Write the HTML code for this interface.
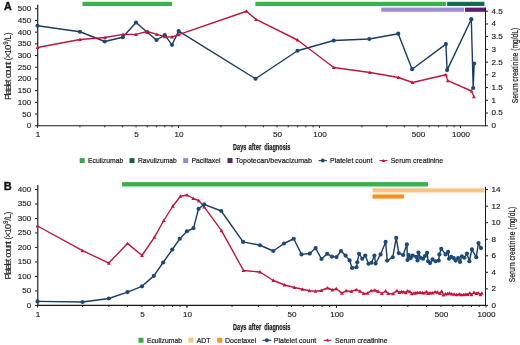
<!DOCTYPE html>
<html><head><meta charset="utf-8"><style>
html,body{margin:0;padding:0;background:#fff;}
body{width:520px;height:345px;overflow:hidden;}
svg{display:block;will-change:transform;font-family:"Liberation Sans",sans-serif;}
</style></head><body>
<svg width="520" height="345" viewBox="0 0 520 345" font-family="Liberation Sans, sans-serif">
<rect width="520" height="345" fill="#fff"/>
<rect x="82.50" y="1.80" width="89.50" height="4.20" fill="#37b34a"/>
<rect x="255.40" y="1.80" width="190.50" height="4.20" fill="#37b34a"/>
<rect x="447.10" y="1.80" width="37.30" height="4.20" fill="#146c4f"/>
<rect x="381.25" y="7.60" width="82.75" height="4.20" fill="#9a90cf"/>
<rect x="465.00" y="7.60" width="20.60" height="4.20" fill="#5b1d6f"/>
<line x1="37.70" y1="4.75" x2="37.70" y2="126.25" stroke="#1a1a1a" stroke-width="1.15"/>
<line x1="485.50" y1="7.60" x2="485.50" y2="126.25" stroke="#1a1a1a" stroke-width="1"/>
<line x1="37.00" y1="125.75" x2="486.00" y2="125.75" stroke="#1a1a1a" stroke-width="1.15"/>
<line x1="35.00" y1="125.75" x2="37.50" y2="125.75" stroke="#1a1a1a" stroke-width="1"/>
<text x="31.20" y="128.20" font-size="8.1" text-anchor="end" font-weight="normal" fill="#222" stroke="#222" stroke-width="0.15" >0</text>
<line x1="35.00" y1="114.05" x2="37.50" y2="114.05" stroke="#1a1a1a" stroke-width="1"/>
<text x="31.20" y="116.50" font-size="8.1" text-anchor="end" font-weight="normal" fill="#222" stroke="#222" stroke-width="0.15" >50</text>
<line x1="35.00" y1="102.35" x2="37.50" y2="102.35" stroke="#1a1a1a" stroke-width="1"/>
<text x="31.20" y="104.80" font-size="8.1" text-anchor="end" font-weight="normal" fill="#222" stroke="#222" stroke-width="0.15" >100</text>
<line x1="35.00" y1="90.65" x2="37.50" y2="90.65" stroke="#1a1a1a" stroke-width="1"/>
<text x="31.20" y="93.10" font-size="8.1" text-anchor="end" font-weight="normal" fill="#222" stroke="#222" stroke-width="0.15" >150</text>
<line x1="35.00" y1="78.95" x2="37.50" y2="78.95" stroke="#1a1a1a" stroke-width="1"/>
<text x="31.20" y="81.40" font-size="8.1" text-anchor="end" font-weight="normal" fill="#222" stroke="#222" stroke-width="0.15" >200</text>
<line x1="35.00" y1="67.25" x2="37.50" y2="67.25" stroke="#1a1a1a" stroke-width="1"/>
<text x="31.20" y="69.70" font-size="8.1" text-anchor="end" font-weight="normal" fill="#222" stroke="#222" stroke-width="0.15" >250</text>
<line x1="35.00" y1="55.55" x2="37.50" y2="55.55" stroke="#1a1a1a" stroke-width="1"/>
<text x="31.20" y="58.00" font-size="8.1" text-anchor="end" font-weight="normal" fill="#222" stroke="#222" stroke-width="0.15" >300</text>
<line x1="35.00" y1="43.85" x2="37.50" y2="43.85" stroke="#1a1a1a" stroke-width="1"/>
<text x="31.20" y="46.30" font-size="8.1" text-anchor="end" font-weight="normal" fill="#222" stroke="#222" stroke-width="0.15" >350</text>
<line x1="35.00" y1="32.15" x2="37.50" y2="32.15" stroke="#1a1a1a" stroke-width="1"/>
<text x="31.20" y="34.60" font-size="8.1" text-anchor="end" font-weight="normal" fill="#222" stroke="#222" stroke-width="0.15" >400</text>
<line x1="35.00" y1="20.45" x2="37.50" y2="20.45" stroke="#1a1a1a" stroke-width="1"/>
<text x="31.20" y="22.90" font-size="8.1" text-anchor="end" font-weight="normal" fill="#222" stroke="#222" stroke-width="0.15" >450</text>
<line x1="35.00" y1="8.75" x2="37.50" y2="8.75" stroke="#1a1a1a" stroke-width="1"/>
<text x="31.20" y="11.20" font-size="8.1" text-anchor="end" font-weight="normal" fill="#222" stroke="#222" stroke-width="0.15" >500</text>
<line x1="485.50" y1="125.75" x2="488.00" y2="125.75" stroke="#1a1a1a" stroke-width="1"/>
<text x="491.60" y="128.20" font-size="8.1" text-anchor="start" font-weight="normal" fill="#222" stroke="#222" stroke-width="0.15" >0</text>
<line x1="485.50" y1="113.03" x2="488.00" y2="113.03" stroke="#1a1a1a" stroke-width="1"/>
<text x="491.60" y="115.48" font-size="8.1" text-anchor="start" font-weight="normal" fill="#222" stroke="#222" stroke-width="0.15" >0.5</text>
<line x1="485.50" y1="100.30" x2="488.00" y2="100.30" stroke="#1a1a1a" stroke-width="1"/>
<text x="491.60" y="102.75" font-size="8.1" text-anchor="start" font-weight="normal" fill="#222" stroke="#222" stroke-width="0.15" >1</text>
<line x1="485.50" y1="87.58" x2="488.00" y2="87.58" stroke="#1a1a1a" stroke-width="1"/>
<text x="491.60" y="90.03" font-size="8.1" text-anchor="start" font-weight="normal" fill="#222" stroke="#222" stroke-width="0.15" >1.5</text>
<line x1="485.50" y1="74.85" x2="488.00" y2="74.85" stroke="#1a1a1a" stroke-width="1"/>
<text x="491.60" y="77.30" font-size="8.1" text-anchor="start" font-weight="normal" fill="#222" stroke="#222" stroke-width="0.15" >2</text>
<line x1="485.50" y1="62.12" x2="488.00" y2="62.12" stroke="#1a1a1a" stroke-width="1"/>
<text x="491.60" y="64.58" font-size="8.1" text-anchor="start" font-weight="normal" fill="#222" stroke="#222" stroke-width="0.15" >2.5</text>
<line x1="485.50" y1="49.40" x2="488.00" y2="49.40" stroke="#1a1a1a" stroke-width="1"/>
<text x="491.60" y="51.85" font-size="8.1" text-anchor="start" font-weight="normal" fill="#222" stroke="#222" stroke-width="0.15" >3</text>
<line x1="485.50" y1="36.67" x2="488.00" y2="36.67" stroke="#1a1a1a" stroke-width="1"/>
<text x="491.60" y="39.12" font-size="8.1" text-anchor="start" font-weight="normal" fill="#222" stroke="#222" stroke-width="0.15" >3.5</text>
<line x1="485.50" y1="23.95" x2="488.00" y2="23.95" stroke="#1a1a1a" stroke-width="1"/>
<text x="491.60" y="26.40" font-size="8.1" text-anchor="start" font-weight="normal" fill="#222" stroke="#222" stroke-width="0.15" >4</text>
<line x1="485.50" y1="11.23" x2="488.00" y2="11.23" stroke="#1a1a1a" stroke-width="1"/>
<text x="491.60" y="13.68" font-size="8.1" text-anchor="start" font-weight="normal" fill="#222" stroke="#222" stroke-width="0.15" >4.5</text>
<line x1="37.50" y1="125.75" x2="37.50" y2="127.95" stroke="#1a1a1a" stroke-width="0.9"/>
<line x1="79.95" y1="125.75" x2="79.95" y2="127.35" stroke="#1a1a1a" stroke-width="0.9"/>
<line x1="104.77" y1="125.75" x2="104.77" y2="127.35" stroke="#1a1a1a" stroke-width="0.9"/>
<line x1="122.39" y1="125.75" x2="122.39" y2="127.35" stroke="#1a1a1a" stroke-width="0.9"/>
<line x1="136.05" y1="125.75" x2="136.05" y2="127.35" stroke="#1a1a1a" stroke-width="0.9"/>
<line x1="147.22" y1="125.75" x2="147.22" y2="127.35" stroke="#1a1a1a" stroke-width="0.9"/>
<line x1="156.66" y1="125.75" x2="156.66" y2="127.35" stroke="#1a1a1a" stroke-width="0.9"/>
<line x1="164.84" y1="125.75" x2="164.84" y2="127.35" stroke="#1a1a1a" stroke-width="0.9"/>
<line x1="172.05" y1="125.75" x2="172.05" y2="127.35" stroke="#1a1a1a" stroke-width="0.9"/>
<line x1="178.50" y1="125.75" x2="178.50" y2="127.95" stroke="#1a1a1a" stroke-width="0.9"/>
<line x1="220.95" y1="125.75" x2="220.95" y2="127.35" stroke="#1a1a1a" stroke-width="0.9"/>
<line x1="245.77" y1="125.75" x2="245.77" y2="127.35" stroke="#1a1a1a" stroke-width="0.9"/>
<line x1="263.39" y1="125.75" x2="263.39" y2="127.35" stroke="#1a1a1a" stroke-width="0.9"/>
<line x1="277.05" y1="125.75" x2="277.05" y2="127.35" stroke="#1a1a1a" stroke-width="0.9"/>
<line x1="288.22" y1="125.75" x2="288.22" y2="127.35" stroke="#1a1a1a" stroke-width="0.9"/>
<line x1="297.66" y1="125.75" x2="297.66" y2="127.35" stroke="#1a1a1a" stroke-width="0.9"/>
<line x1="305.84" y1="125.75" x2="305.84" y2="127.35" stroke="#1a1a1a" stroke-width="0.9"/>
<line x1="313.05" y1="125.75" x2="313.05" y2="127.35" stroke="#1a1a1a" stroke-width="0.9"/>
<line x1="319.50" y1="125.75" x2="319.50" y2="127.95" stroke="#1a1a1a" stroke-width="0.9"/>
<line x1="361.95" y1="125.75" x2="361.95" y2="127.35" stroke="#1a1a1a" stroke-width="0.9"/>
<line x1="386.77" y1="125.75" x2="386.77" y2="127.35" stroke="#1a1a1a" stroke-width="0.9"/>
<line x1="404.39" y1="125.75" x2="404.39" y2="127.35" stroke="#1a1a1a" stroke-width="0.9"/>
<line x1="418.05" y1="125.75" x2="418.05" y2="127.35" stroke="#1a1a1a" stroke-width="0.9"/>
<line x1="429.22" y1="125.75" x2="429.22" y2="127.35" stroke="#1a1a1a" stroke-width="0.9"/>
<line x1="438.66" y1="125.75" x2="438.66" y2="127.35" stroke="#1a1a1a" stroke-width="0.9"/>
<line x1="446.84" y1="125.75" x2="446.84" y2="127.35" stroke="#1a1a1a" stroke-width="0.9"/>
<line x1="454.05" y1="125.75" x2="454.05" y2="127.35" stroke="#1a1a1a" stroke-width="0.9"/>
<line x1="460.50" y1="125.75" x2="460.50" y2="127.95" stroke="#1a1a1a" stroke-width="0.9"/>
<text x="37.90" y="137.20" font-size="8.1" text-anchor="middle" font-weight="normal" fill="#222" stroke="#222" stroke-width="0.15" >1</text>
<text x="136.45" y="137.20" font-size="8.1" text-anchor="middle" font-weight="normal" fill="#222" stroke="#222" stroke-width="0.15" >5</text>
<text x="178.90" y="137.20" font-size="8.1" text-anchor="middle" font-weight="normal" fill="#222" stroke="#222" stroke-width="0.15" >10</text>
<text x="277.45" y="137.20" font-size="8.1" text-anchor="middle" font-weight="normal" fill="#222" stroke="#222" stroke-width="0.15" >50</text>
<text x="319.90" y="137.20" font-size="8.1" text-anchor="middle" font-weight="normal" fill="#222" stroke="#222" stroke-width="0.15" >100</text>
<text x="418.45" y="137.20" font-size="8.1" text-anchor="middle" font-weight="normal" fill="#222" stroke="#222" stroke-width="0.15" >500</text>
<text x="460.90" y="137.20" font-size="8.1" text-anchor="middle" font-weight="normal" fill="#222" stroke="#222" stroke-width="0.15" >1000</text>
<polyline points="37.50,25.75 80.00,31.75 104.75,41.50 122.75,37.25 136.00,22.50 147.25,32.25 156.50,40.00 164.80,35.20 172.00,44.80 178.70,31.10 255.50,78.75 297.50,50.75 333.75,40.50 369.25,39.00 398.25,33.70 412.10,69.20 445.90,44.10 447.10,70.10 471.30,19.20 473.20,88.00 474.20,63.50" fill="none" stroke="#1a3c62" stroke-width="1.4" stroke-linejoin="round"/>
<circle cx="37.50" cy="25.75" r="2.1" fill="#1c4a78"/>
<circle cx="80.00" cy="31.75" r="2.1" fill="#1c4a78"/>
<circle cx="104.75" cy="41.50" r="2.1" fill="#1c4a78"/>
<circle cx="122.75" cy="37.25" r="2.1" fill="#1c4a78"/>
<circle cx="136.00" cy="22.50" r="2.1" fill="#1c4a78"/>
<circle cx="147.25" cy="32.25" r="2.1" fill="#1c4a78"/>
<circle cx="156.50" cy="40.00" r="2.1" fill="#1c4a78"/>
<circle cx="164.80" cy="35.20" r="2.1" fill="#1c4a78"/>
<circle cx="172.00" cy="44.80" r="2.1" fill="#1c4a78"/>
<circle cx="178.70" cy="31.10" r="2.1" fill="#1c4a78"/>
<circle cx="255.50" cy="78.75" r="2.1" fill="#1c4a78"/>
<circle cx="297.50" cy="50.75" r="2.1" fill="#1c4a78"/>
<circle cx="333.75" cy="40.50" r="2.1" fill="#1c4a78"/>
<circle cx="369.25" cy="39.00" r="2.1" fill="#1c4a78"/>
<circle cx="398.25" cy="33.70" r="2.1" fill="#1c4a78"/>
<circle cx="412.10" cy="69.20" r="2.1" fill="#1c4a78"/>
<circle cx="445.90" cy="44.10" r="2.1" fill="#1c4a78"/>
<circle cx="447.10" cy="70.10" r="2.1" fill="#1c4a78"/>
<circle cx="471.30" cy="19.20" r="2.1" fill="#1c4a78"/>
<circle cx="473.20" cy="88.00" r="2.1" fill="#1c4a78"/>
<circle cx="474.20" cy="63.50" r="2.1" fill="#1c4a78"/>
<polyline points="37.50,47.50 80.00,39.50 105.00,37.50 123.00,34.40 136.00,34.40 147.25,31.50 156.90,34.40 164.80,36.70 172.10,37.00 178.70,34.70 246.50,11.25 256.00,19.40 297.50,40.00 333.75,67.50 370.00,72.50 398.50,77.50 412.50,82.50 445.80,74.70 447.80,80.60 471.50,91.00 473.90,96.70" fill="none" stroke="#b9183c" stroke-width="1.4" stroke-linejoin="round"/>
<path d="M35.55,49.06 L39.45,49.06 L37.50,45.55Z" fill="#c4163c"/>
<path d="M78.05,41.06 L81.95,41.06 L80.00,37.55Z" fill="#c4163c"/>
<path d="M103.05,39.06 L106.95,39.06 L105.00,35.55Z" fill="#c4163c"/>
<path d="M121.05,35.96 L124.95,35.96 L123.00,32.45Z" fill="#c4163c"/>
<path d="M134.05,35.96 L137.95,35.96 L136.00,32.45Z" fill="#c4163c"/>
<path d="M145.30,33.06 L149.20,33.06 L147.25,29.55Z" fill="#c4163c"/>
<path d="M154.95,35.96 L158.85,35.96 L156.90,32.45Z" fill="#c4163c"/>
<path d="M162.85,38.26 L166.75,38.26 L164.80,34.75Z" fill="#c4163c"/>
<path d="M170.15,38.56 L174.05,38.56 L172.10,35.05Z" fill="#c4163c"/>
<path d="M176.75,36.26 L180.65,36.26 L178.70,32.75Z" fill="#c4163c"/>
<path d="M244.55,12.81 L248.45,12.81 L246.50,9.30Z" fill="#c4163c"/>
<path d="M254.05,20.96 L257.95,20.96 L256.00,17.45Z" fill="#c4163c"/>
<path d="M295.55,41.56 L299.45,41.56 L297.50,38.05Z" fill="#c4163c"/>
<path d="M331.80,69.06 L335.70,69.06 L333.75,65.55Z" fill="#c4163c"/>
<path d="M368.05,74.06 L371.95,74.06 L370.00,70.55Z" fill="#c4163c"/>
<path d="M396.55,79.06 L400.45,79.06 L398.50,75.55Z" fill="#c4163c"/>
<path d="M410.55,84.06 L414.45,84.06 L412.50,80.55Z" fill="#c4163c"/>
<path d="M443.85,76.26 L447.75,76.26 L445.80,72.75Z" fill="#c4163c"/>
<path d="M445.85,82.16 L449.75,82.16 L447.80,78.65Z" fill="#c4163c"/>
<path d="M469.55,92.56 L473.45,92.56 L471.50,89.05Z" fill="#c4163c"/>
<path d="M471.95,98.26 L475.85,98.26 L473.90,94.75Z" fill="#c4163c"/>
<text x="4.00" y="9.70" font-size="10.7" text-anchor="start" font-weight="bold" fill="#111" stroke="#111" stroke-width="0.35" >A</text>
<text transform="translate(11.3,100.1) rotate(-90)" font-size="9.0" fill="#222" stroke="#222" stroke-width="0.1" lengthAdjust="spacingAndGlyphs"><tspan x="0" textLength="20.6">Platelet</tspan><tspan x="22.0" textLength="16.4">count</tspan><tspan x="39.6" textLength="15.7">(×10</tspan><tspan x="55.3" dy="-3" font-size="6.3" textLength="3.3">9</tspan><tspan x="58.6" dy="3" textLength="9.2">/L)</tspan></text>
<text transform="translate(518.2,65.5) rotate(-90)" font-size="9" text-anchor="middle" fill="#222" stroke="#222" stroke-width="0.2" textLength="75.5" lengthAdjust="spacingAndGlyphs">Serum creatinine (mg/dL)</text>
<text x="233.10" y="150.40" font-size="8.8" text-anchor="start" font-weight="bold" fill="#222" stroke="#222" stroke-width="0.25" textLength="13.2" lengthAdjust="spacingAndGlyphs" >Days</text>
<text x="248.50" y="150.40" font-size="8.8" text-anchor="start" font-weight="bold" fill="#222" stroke="#222" stroke-width="0.25" textLength="12.7" lengthAdjust="spacingAndGlyphs" >after</text>
<text x="264.30" y="150.40" font-size="8.8" text-anchor="start" font-weight="bold" fill="#222" stroke="#222" stroke-width="0.25" textLength="26.2" lengthAdjust="spacingAndGlyphs" >diagnosis</text>
<rect x="79.70" y="158.10" width="5.00" height="5.00" fill="#3aa84a"/>
<text x="88.10" y="163.45" font-size="7.8" text-anchor="start" font-weight="normal" fill="#222" stroke="#222" stroke-width="0.22" textLength="35.1" lengthAdjust="spacingAndGlyphs" >Eculizumab</text>
<rect x="129.50" y="158.10" width="5.00" height="5.00" fill="#1a5c46"/>
<text x="138.00" y="163.45" font-size="7.8" text-anchor="start" font-weight="normal" fill="#222" stroke="#222" stroke-width="0.22" textLength="38.75" lengthAdjust="spacingAndGlyphs" >Ravulizumab</text>
<rect x="183.20" y="158.10" width="5.00" height="5.00" fill="#948cc4"/>
<text x="191.40" y="163.45" font-size="7.8" text-anchor="start" font-weight="normal" fill="#222" stroke="#222" stroke-width="0.22" textLength="29.2" lengthAdjust="spacingAndGlyphs" >Paclitaxel</text>
<rect x="227.50" y="158.10" width="5.00" height="5.00" fill="#52245f"/>
<text x="235.50" y="163.45" font-size="7.8" text-anchor="start" font-weight="normal" fill="#222" stroke="#222" stroke-width="0.22" textLength="76.5" lengthAdjust="spacingAndGlyphs" >Topotecan/bevacizumab</text>
<line x1="318.60" y1="160.60" x2="326.90" y2="160.60" stroke="#1a3c62" stroke-width="1.1"/>
<circle cx="322.75" cy="160.60" r="2.0" fill="#1c4a78"/>
<text x="330.10" y="163.45" font-size="7.8" text-anchor="start" font-weight="normal" fill="#222" stroke="#222" stroke-width="0.22" textLength="42.3" lengthAdjust="spacingAndGlyphs" >Platelet count</text>
<line x1="379.50" y1="160.60" x2="387.50" y2="160.60" stroke="#b9183c" stroke-width="1.1"/>
<path d="M381.80,161.96 L385.20,161.96 L383.50,158.90Z" fill="#c4163c"/>
<text x="390.75" y="163.45" font-size="7.8" text-anchor="start" font-weight="normal" fill="#222" stroke="#222" stroke-width="0.22" textLength="52.25" lengthAdjust="spacingAndGlyphs" >Serum creatinine</text>
<rect x="122.10" y="182.10" width="305.90" height="4.40" fill="#37b34a"/>
<rect x="372.50" y="188.30" width="111.75" height="4.20" fill="#f8c585"/>
<rect x="372.50" y="194.40" width="31.50" height="4.20" fill="#f7921e"/>
<line x1="37.80" y1="185.10" x2="37.80" y2="305.90" stroke="#1a1a1a" stroke-width="1.15"/>
<line x1="485.50" y1="186.75" x2="485.50" y2="305.90" stroke="#1a1a1a" stroke-width="1"/>
<line x1="37.00" y1="305.40" x2="486.00" y2="305.40" stroke="#1a1a1a" stroke-width="1.15"/>
<line x1="35.00" y1="305.40" x2="37.50" y2="305.40" stroke="#1a1a1a" stroke-width="1"/>
<text x="31.20" y="307.85" font-size="8.1" text-anchor="end" font-weight="normal" fill="#222" stroke="#222" stroke-width="0.15" >0</text>
<line x1="35.00" y1="290.91" x2="37.50" y2="290.91" stroke="#1a1a1a" stroke-width="1"/>
<text x="31.20" y="293.36" font-size="8.1" text-anchor="end" font-weight="normal" fill="#222" stroke="#222" stroke-width="0.15" >50</text>
<line x1="35.00" y1="276.42" x2="37.50" y2="276.42" stroke="#1a1a1a" stroke-width="1"/>
<text x="31.20" y="278.87" font-size="8.1" text-anchor="end" font-weight="normal" fill="#222" stroke="#222" stroke-width="0.15" >100</text>
<line x1="35.00" y1="261.93" x2="37.50" y2="261.93" stroke="#1a1a1a" stroke-width="1"/>
<text x="31.20" y="264.38" font-size="8.1" text-anchor="end" font-weight="normal" fill="#222" stroke="#222" stroke-width="0.15" >150</text>
<line x1="35.00" y1="247.44" x2="37.50" y2="247.44" stroke="#1a1a1a" stroke-width="1"/>
<text x="31.20" y="249.89" font-size="8.1" text-anchor="end" font-weight="normal" fill="#222" stroke="#222" stroke-width="0.15" >200</text>
<line x1="35.00" y1="232.95" x2="37.50" y2="232.95" stroke="#1a1a1a" stroke-width="1"/>
<text x="31.20" y="235.40" font-size="8.1" text-anchor="end" font-weight="normal" fill="#222" stroke="#222" stroke-width="0.15" >250</text>
<line x1="35.00" y1="218.46" x2="37.50" y2="218.46" stroke="#1a1a1a" stroke-width="1"/>
<text x="31.20" y="220.91" font-size="8.1" text-anchor="end" font-weight="normal" fill="#222" stroke="#222" stroke-width="0.15" >300</text>
<line x1="35.00" y1="203.97" x2="37.50" y2="203.97" stroke="#1a1a1a" stroke-width="1"/>
<text x="31.20" y="206.42" font-size="8.1" text-anchor="end" font-weight="normal" fill="#222" stroke="#222" stroke-width="0.15" >350</text>
<line x1="35.00" y1="189.48" x2="37.50" y2="189.48" stroke="#1a1a1a" stroke-width="1"/>
<text x="31.20" y="191.93" font-size="8.1" text-anchor="end" font-weight="normal" fill="#222" stroke="#222" stroke-width="0.15" >400</text>
<line x1="485.50" y1="305.40" x2="488.00" y2="305.40" stroke="#1a1a1a" stroke-width="1"/>
<text x="491.60" y="307.85" font-size="8.1" text-anchor="start" font-weight="normal" fill="#222" stroke="#222" stroke-width="0.15" >0</text>
<line x1="485.50" y1="288.86" x2="488.00" y2="288.86" stroke="#1a1a1a" stroke-width="1"/>
<text x="491.60" y="291.31" font-size="8.1" text-anchor="start" font-weight="normal" fill="#222" stroke="#222" stroke-width="0.15" >2</text>
<line x1="485.50" y1="272.32" x2="488.00" y2="272.32" stroke="#1a1a1a" stroke-width="1"/>
<text x="491.60" y="274.77" font-size="8.1" text-anchor="start" font-weight="normal" fill="#222" stroke="#222" stroke-width="0.15" >4</text>
<line x1="485.50" y1="255.78" x2="488.00" y2="255.78" stroke="#1a1a1a" stroke-width="1"/>
<text x="491.60" y="258.23" font-size="8.1" text-anchor="start" font-weight="normal" fill="#222" stroke="#222" stroke-width="0.15" >6</text>
<line x1="485.50" y1="239.24" x2="488.00" y2="239.24" stroke="#1a1a1a" stroke-width="1"/>
<text x="491.60" y="241.69" font-size="8.1" text-anchor="start" font-weight="normal" fill="#222" stroke="#222" stroke-width="0.15" >8</text>
<line x1="485.50" y1="222.70" x2="488.00" y2="222.70" stroke="#1a1a1a" stroke-width="1"/>
<text x="491.60" y="225.15" font-size="8.1" text-anchor="start" font-weight="normal" fill="#222" stroke="#222" stroke-width="0.15" >10</text>
<line x1="485.50" y1="206.16" x2="488.00" y2="206.16" stroke="#1a1a1a" stroke-width="1"/>
<text x="491.60" y="208.61" font-size="8.1" text-anchor="start" font-weight="normal" fill="#222" stroke="#222" stroke-width="0.15" >12</text>
<line x1="485.50" y1="189.62" x2="488.00" y2="189.62" stroke="#1a1a1a" stroke-width="1"/>
<text x="491.60" y="192.07" font-size="8.1" text-anchor="start" font-weight="normal" fill="#222" stroke="#222" stroke-width="0.15" >14</text>
<line x1="37.50" y1="305.40" x2="37.50" y2="307.60" stroke="#1a1a1a" stroke-width="0.9"/>
<line x1="82.50" y1="305.40" x2="82.50" y2="307.00" stroke="#1a1a1a" stroke-width="0.9"/>
<line x1="108.83" y1="305.40" x2="108.83" y2="307.00" stroke="#1a1a1a" stroke-width="0.9"/>
<line x1="127.51" y1="305.40" x2="127.51" y2="307.00" stroke="#1a1a1a" stroke-width="0.9"/>
<line x1="142.00" y1="305.40" x2="142.00" y2="307.00" stroke="#1a1a1a" stroke-width="0.9"/>
<line x1="153.83" y1="305.40" x2="153.83" y2="307.00" stroke="#1a1a1a" stroke-width="0.9"/>
<line x1="163.84" y1="305.40" x2="163.84" y2="307.00" stroke="#1a1a1a" stroke-width="0.9"/>
<line x1="172.51" y1="305.40" x2="172.51" y2="307.00" stroke="#1a1a1a" stroke-width="0.9"/>
<line x1="180.16" y1="305.40" x2="180.16" y2="307.00" stroke="#1a1a1a" stroke-width="0.9"/>
<line x1="187.00" y1="305.40" x2="187.00" y2="307.60" stroke="#1a1a1a" stroke-width="0.9"/>
<line x1="187.00" y1="305.40" x2="187.00" y2="307.60" stroke="#1a1a1a" stroke-width="0.9"/>
<line x1="232.00" y1="305.40" x2="232.00" y2="307.00" stroke="#1a1a1a" stroke-width="0.9"/>
<line x1="258.33" y1="305.40" x2="258.33" y2="307.00" stroke="#1a1a1a" stroke-width="0.9"/>
<line x1="277.01" y1="305.40" x2="277.01" y2="307.00" stroke="#1a1a1a" stroke-width="0.9"/>
<line x1="291.50" y1="305.40" x2="291.50" y2="307.00" stroke="#1a1a1a" stroke-width="0.9"/>
<line x1="303.33" y1="305.40" x2="303.33" y2="307.00" stroke="#1a1a1a" stroke-width="0.9"/>
<line x1="313.34" y1="305.40" x2="313.34" y2="307.00" stroke="#1a1a1a" stroke-width="0.9"/>
<line x1="322.01" y1="305.40" x2="322.01" y2="307.00" stroke="#1a1a1a" stroke-width="0.9"/>
<line x1="329.66" y1="305.40" x2="329.66" y2="307.00" stroke="#1a1a1a" stroke-width="0.9"/>
<line x1="336.50" y1="305.40" x2="336.50" y2="307.60" stroke="#1a1a1a" stroke-width="0.9"/>
<line x1="336.50" y1="305.40" x2="336.50" y2="307.60" stroke="#1a1a1a" stroke-width="0.9"/>
<line x1="381.50" y1="305.40" x2="381.50" y2="307.00" stroke="#1a1a1a" stroke-width="0.9"/>
<line x1="407.83" y1="305.40" x2="407.83" y2="307.00" stroke="#1a1a1a" stroke-width="0.9"/>
<line x1="426.51" y1="305.40" x2="426.51" y2="307.00" stroke="#1a1a1a" stroke-width="0.9"/>
<line x1="441.00" y1="305.40" x2="441.00" y2="307.00" stroke="#1a1a1a" stroke-width="0.9"/>
<line x1="452.83" y1="305.40" x2="452.83" y2="307.00" stroke="#1a1a1a" stroke-width="0.9"/>
<line x1="462.84" y1="305.40" x2="462.84" y2="307.00" stroke="#1a1a1a" stroke-width="0.9"/>
<line x1="471.51" y1="305.40" x2="471.51" y2="307.00" stroke="#1a1a1a" stroke-width="0.9"/>
<line x1="479.16" y1="305.40" x2="479.16" y2="307.00" stroke="#1a1a1a" stroke-width="0.9"/>
<line x1="486.00" y1="305.40" x2="486.00" y2="307.60" stroke="#1a1a1a" stroke-width="0.9"/>
<text x="37.90" y="316.90" font-size="8.1" text-anchor="middle" font-weight="normal" fill="#222" stroke="#222" stroke-width="0.15" >1</text>
<text x="142.40" y="316.90" font-size="8.1" text-anchor="middle" font-weight="normal" fill="#222" stroke="#222" stroke-width="0.15" >5</text>
<text x="187.40" y="316.90" font-size="8.1" text-anchor="middle" font-weight="normal" fill="#222" stroke="#222" stroke-width="0.15" >10</text>
<text x="291.90" y="316.90" font-size="8.1" text-anchor="middle" font-weight="normal" fill="#222" stroke="#222" stroke-width="0.15" >50</text>
<text x="336.90" y="316.90" font-size="8.1" text-anchor="middle" font-weight="normal" fill="#222" stroke="#222" stroke-width="0.15" >100</text>
<text x="441.40" y="316.90" font-size="8.1" text-anchor="middle" font-weight="normal" fill="#222" stroke="#222" stroke-width="0.15" >500</text>
<text x="486.40" y="316.90" font-size="8.1" text-anchor="middle" font-weight="normal" fill="#222" stroke="#222" stroke-width="0.15" >1000</text>
<polyline points="37.50,226.00 82.50,250.60 108.80,263.10 127.50,243.40 142.00,255.50 154.50,237.20 163.80,220.50 172.80,206.25 180.40,196.25 187.10,195.00 193.30,198.50 198.80,200.60 204.20,206.90 221.50,230.60 243.50,270.50 260.00,272.00 273.25,280.50 284.50,285.00 294.50,287.50 302.50,289.25 309.50,290.75 315.50,291.25 321.25,290.50 327.50,288.00 332.50,290.00 336.25,288.75 341.90,293.10 346.25,290.60 351.25,291.50 356.25,289.60 360.00,291.25 363.75,293.50 367.50,293.10 371.25,290.60 375.00,290.25 378.10,291.50 381.90,293.50 385.60,291.00 388.10,293.50 393.10,293.75 396.90,290.60 399.40,292.50 401.50,291.57 403.64,291.94 405.85,292.65 407.51,290.94 409.95,291.63 411.79,293.69 413.86,293.24 415.93,292.69 417.68,292.68 420.15,292.36 422.49,292.78 424.16,293.02 426.35,291.74 427.98,293.32 430.05,292.91 432.53,292.90 435.05,292.01 437.45,292.14 439.99,293.36 441.68,291.28 443.50,294.90 445.54,293.95 447.44,293.62 449.42,293.18 451.61,293.84 454.11,294.11 456.64,294.60 459.23,294.08 461.00,294.61 463.56,294.73 465.73,294.20 467.54,294.53 469.72,293.00 471.38,294.59 473.97,292.45 476.37,293.35 478.12,293.02 480.49,294.64 481.80,293.20" fill="none" stroke="#b9183c" stroke-width="1.4" stroke-linejoin="round"/>
<path d="M35.55,227.56 L39.45,227.56 L37.50,224.05Z" fill="#c4163c"/>
<path d="M80.55,252.16 L84.45,252.16 L82.50,248.65Z" fill="#c4163c"/>
<path d="M106.85,264.66 L110.75,264.66 L108.80,261.15Z" fill="#c4163c"/>
<path d="M125.55,244.96 L129.45,244.96 L127.50,241.45Z" fill="#c4163c"/>
<path d="M140.05,257.06 L143.95,257.06 L142.00,253.55Z" fill="#c4163c"/>
<path d="M152.55,238.76 L156.45,238.76 L154.50,235.25Z" fill="#c4163c"/>
<path d="M161.85,222.06 L165.75,222.06 L163.80,218.55Z" fill="#c4163c"/>
<path d="M170.85,207.81 L174.75,207.81 L172.80,204.30Z" fill="#c4163c"/>
<path d="M178.45,197.81 L182.35,197.81 L180.40,194.30Z" fill="#c4163c"/>
<path d="M185.15,196.56 L189.05,196.56 L187.10,193.05Z" fill="#c4163c"/>
<path d="M191.35,200.06 L195.25,200.06 L193.30,196.55Z" fill="#c4163c"/>
<path d="M196.85,202.16 L200.75,202.16 L198.80,198.65Z" fill="#c4163c"/>
<path d="M202.25,208.46 L206.15,208.46 L204.20,204.95Z" fill="#c4163c"/>
<path d="M219.55,232.16 L223.45,232.16 L221.50,228.65Z" fill="#c4163c"/>
<path d="M241.55,272.06 L245.45,272.06 L243.50,268.55Z" fill="#c4163c"/>
<path d="M258.05,273.56 L261.95,273.56 L260.00,270.05Z" fill="#c4163c"/>
<path d="M271.30,282.06 L275.20,282.06 L273.25,278.55Z" fill="#c4163c"/>
<path d="M282.55,286.56 L286.45,286.56 L284.50,283.05Z" fill="#c4163c"/>
<path d="M292.55,289.06 L296.45,289.06 L294.50,285.55Z" fill="#c4163c"/>
<path d="M300.55,290.81 L304.45,290.81 L302.50,287.30Z" fill="#c4163c"/>
<path d="M307.55,292.31 L311.45,292.31 L309.50,288.80Z" fill="#c4163c"/>
<path d="M313.55,292.81 L317.45,292.81 L315.50,289.30Z" fill="#c4163c"/>
<path d="M319.30,292.06 L323.20,292.06 L321.25,288.55Z" fill="#c4163c"/>
<path d="M325.55,289.56 L329.45,289.56 L327.50,286.05Z" fill="#c4163c"/>
<path d="M330.55,291.56 L334.45,291.56 L332.50,288.05Z" fill="#c4163c"/>
<path d="M334.30,290.31 L338.20,290.31 L336.25,286.80Z" fill="#c4163c"/>
<path d="M339.95,294.66 L343.85,294.66 L341.90,291.15Z" fill="#c4163c"/>
<path d="M344.30,292.16 L348.20,292.16 L346.25,288.65Z" fill="#c4163c"/>
<path d="M349.30,293.06 L353.20,293.06 L351.25,289.55Z" fill="#c4163c"/>
<path d="M354.30,291.16 L358.20,291.16 L356.25,287.65Z" fill="#c4163c"/>
<path d="M358.05,292.81 L361.95,292.81 L360.00,289.30Z" fill="#c4163c"/>
<path d="M361.80,295.06 L365.70,295.06 L363.75,291.55Z" fill="#c4163c"/>
<path d="M365.55,294.66 L369.45,294.66 L367.50,291.15Z" fill="#c4163c"/>
<path d="M369.30,292.16 L373.20,292.16 L371.25,288.65Z" fill="#c4163c"/>
<path d="M373.05,291.81 L376.95,291.81 L375.00,288.30Z" fill="#c4163c"/>
<path d="M376.15,293.06 L380.05,293.06 L378.10,289.55Z" fill="#c4163c"/>
<path d="M379.95,295.06 L383.85,295.06 L381.90,291.55Z" fill="#c4163c"/>
<path d="M383.65,292.56 L387.55,292.56 L385.60,289.05Z" fill="#c4163c"/>
<path d="M386.15,295.06 L390.05,295.06 L388.10,291.55Z" fill="#c4163c"/>
<path d="M391.15,295.31 L395.05,295.31 L393.10,291.80Z" fill="#c4163c"/>
<path d="M394.95,292.16 L398.85,292.16 L396.90,288.65Z" fill="#c4163c"/>
<path d="M397.45,294.06 L401.35,294.06 L399.40,290.55Z" fill="#c4163c"/>
<path d="M399.55,293.13 L403.45,293.13 L401.50,289.62Z" fill="#c4163c"/>
<path d="M401.69,293.50 L405.59,293.50 L403.64,289.99Z" fill="#c4163c"/>
<path d="M403.90,294.21 L407.80,294.21 L405.85,290.70Z" fill="#c4163c"/>
<path d="M405.56,292.50 L409.46,292.50 L407.51,288.99Z" fill="#c4163c"/>
<path d="M408.00,293.19 L411.90,293.19 L409.95,289.68Z" fill="#c4163c"/>
<path d="M409.84,295.25 L413.74,295.25 L411.79,291.74Z" fill="#c4163c"/>
<path d="M411.91,294.80 L415.81,294.80 L413.86,291.29Z" fill="#c4163c"/>
<path d="M413.98,294.25 L417.88,294.25 L415.93,290.74Z" fill="#c4163c"/>
<path d="M415.73,294.24 L419.63,294.24 L417.68,290.73Z" fill="#c4163c"/>
<path d="M418.20,293.92 L422.10,293.92 L420.15,290.41Z" fill="#c4163c"/>
<path d="M420.54,294.34 L424.44,294.34 L422.49,290.83Z" fill="#c4163c"/>
<path d="M422.21,294.58 L426.11,294.58 L424.16,291.07Z" fill="#c4163c"/>
<path d="M424.40,293.30 L428.30,293.30 L426.35,289.79Z" fill="#c4163c"/>
<path d="M426.03,294.88 L429.93,294.88 L427.98,291.37Z" fill="#c4163c"/>
<path d="M428.10,294.47 L432.00,294.47 L430.05,290.96Z" fill="#c4163c"/>
<path d="M430.58,294.46 L434.48,294.46 L432.53,290.95Z" fill="#c4163c"/>
<path d="M433.10,293.57 L437.00,293.57 L435.05,290.06Z" fill="#c4163c"/>
<path d="M435.50,293.70 L439.40,293.70 L437.45,290.19Z" fill="#c4163c"/>
<path d="M438.04,294.92 L441.94,294.92 L439.99,291.41Z" fill="#c4163c"/>
<path d="M439.73,292.84 L443.63,292.84 L441.68,289.33Z" fill="#c4163c"/>
<path d="M441.55,296.46 L445.45,296.46 L443.50,292.95Z" fill="#c4163c"/>
<path d="M443.59,295.51 L447.49,295.51 L445.54,292.00Z" fill="#c4163c"/>
<path d="M445.49,295.18 L449.39,295.18 L447.44,291.67Z" fill="#c4163c"/>
<path d="M447.47,294.74 L451.37,294.74 L449.42,291.23Z" fill="#c4163c"/>
<path d="M449.66,295.40 L453.56,295.40 L451.61,291.89Z" fill="#c4163c"/>
<path d="M452.16,295.67 L456.06,295.67 L454.11,292.16Z" fill="#c4163c"/>
<path d="M454.69,296.16 L458.59,296.16 L456.64,292.65Z" fill="#c4163c"/>
<path d="M457.28,295.64 L461.18,295.64 L459.23,292.13Z" fill="#c4163c"/>
<path d="M459.05,296.17 L462.95,296.17 L461.00,292.66Z" fill="#c4163c"/>
<path d="M461.61,296.29 L465.51,296.29 L463.56,292.78Z" fill="#c4163c"/>
<path d="M463.78,295.76 L467.68,295.76 L465.73,292.25Z" fill="#c4163c"/>
<path d="M465.59,296.09 L469.49,296.09 L467.54,292.58Z" fill="#c4163c"/>
<path d="M467.77,294.56 L471.67,294.56 L469.72,291.05Z" fill="#c4163c"/>
<path d="M469.43,296.15 L473.33,296.15 L471.38,292.64Z" fill="#c4163c"/>
<path d="M472.02,294.01 L475.92,294.01 L473.97,290.50Z" fill="#c4163c"/>
<path d="M474.42,294.91 L478.32,294.91 L476.37,291.40Z" fill="#c4163c"/>
<path d="M476.17,294.58 L480.07,294.58 L478.12,291.07Z" fill="#c4163c"/>
<path d="M478.54,296.20 L482.44,296.20 L480.49,292.69Z" fill="#c4163c"/>
<path d="M479.85,294.76 L483.75,294.76 L481.80,291.25Z" fill="#c4163c"/>
<polyline points="37.50,301.40 82.50,302.00 108.80,298.50 127.50,292.10 142.00,286.30 153.80,275.90 163.10,262.50 172.25,249.60 179.75,238.75 187.00,231.25 193.50,228.10 198.60,208.75 204.20,204.40 221.25,211.00 243.10,241.90 260.00,245.25 273.30,251.00 284.00,243.50 293.75,238.75 301.50,254.40 309.75,253.50 315.60,248.10 321.50,259.00 327.25,253.75 331.90,256.60 336.50,257.10 341.00,251.00 345.60,255.60 349.60,260.40 352.10,267.90 356.50,267.25 357.25,262.25 359.10,253.75 362.25,258.75 365.25,255.60 368.50,263.75 371.50,262.75 374.40,255.60 375.60,263.50 380.60,254.40 385.60,241.90 387.25,260.60 392.75,257.25 396.25,237.90 398.75,253.10 403.10,255.00 406.90,244.40 407.50,260.00 408.75,255.00 410.60,258.10 412.75,255.60 416.25,256.90 417.50,260.40 418.50,252.50 420.60,257.75 423.10,258.75 425.00,256.00 427.10,252.75 428.10,261.25 430.00,263.10 432.50,259.40 435.60,261.25 438.75,260.60 439.40,254.40 441.25,248.75 445.60,254.40 448.10,251.90 449.00,258.75 451.25,256.90 453.75,258.10 455.60,260.60 458.10,258.10 460.00,261.90 461.90,256.25 464.40,257.75 466.90,253.50 469.40,261.25 471.90,249.40 476.25,257.25 478.50,243.10 481.00,248.10" fill="none" stroke="#1a3c62" stroke-width="1.4" stroke-linejoin="round"/>
<circle cx="37.50" cy="301.40" r="2.1" fill="#1c4a78"/>
<circle cx="82.50" cy="302.00" r="2.1" fill="#1c4a78"/>
<circle cx="108.80" cy="298.50" r="2.1" fill="#1c4a78"/>
<circle cx="127.50" cy="292.10" r="2.1" fill="#1c4a78"/>
<circle cx="142.00" cy="286.30" r="2.1" fill="#1c4a78"/>
<circle cx="153.80" cy="275.90" r="2.1" fill="#1c4a78"/>
<circle cx="163.10" cy="262.50" r="2.1" fill="#1c4a78"/>
<circle cx="172.25" cy="249.60" r="2.1" fill="#1c4a78"/>
<circle cx="179.75" cy="238.75" r="2.1" fill="#1c4a78"/>
<circle cx="187.00" cy="231.25" r="2.1" fill="#1c4a78"/>
<circle cx="193.50" cy="228.10" r="2.1" fill="#1c4a78"/>
<circle cx="198.60" cy="208.75" r="2.1" fill="#1c4a78"/>
<circle cx="204.20" cy="204.40" r="2.1" fill="#1c4a78"/>
<circle cx="221.25" cy="211.00" r="2.1" fill="#1c4a78"/>
<circle cx="243.10" cy="241.90" r="2.1" fill="#1c4a78"/>
<circle cx="260.00" cy="245.25" r="2.1" fill="#1c4a78"/>
<circle cx="273.30" cy="251.00" r="2.1" fill="#1c4a78"/>
<circle cx="284.00" cy="243.50" r="2.1" fill="#1c4a78"/>
<circle cx="293.75" cy="238.75" r="2.1" fill="#1c4a78"/>
<circle cx="301.50" cy="254.40" r="2.1" fill="#1c4a78"/>
<circle cx="309.75" cy="253.50" r="2.1" fill="#1c4a78"/>
<circle cx="315.60" cy="248.10" r="2.1" fill="#1c4a78"/>
<circle cx="321.50" cy="259.00" r="2.1" fill="#1c4a78"/>
<circle cx="327.25" cy="253.75" r="2.1" fill="#1c4a78"/>
<circle cx="331.90" cy="256.60" r="2.1" fill="#1c4a78"/>
<circle cx="336.50" cy="257.10" r="2.1" fill="#1c4a78"/>
<circle cx="341.00" cy="251.00" r="2.1" fill="#1c4a78"/>
<circle cx="345.60" cy="255.60" r="2.1" fill="#1c4a78"/>
<circle cx="349.60" cy="260.40" r="2.1" fill="#1c4a78"/>
<circle cx="352.10" cy="267.90" r="2.1" fill="#1c4a78"/>
<circle cx="356.50" cy="267.25" r="2.1" fill="#1c4a78"/>
<circle cx="357.25" cy="262.25" r="2.1" fill="#1c4a78"/>
<circle cx="359.10" cy="253.75" r="2.1" fill="#1c4a78"/>
<circle cx="362.25" cy="258.75" r="2.1" fill="#1c4a78"/>
<circle cx="365.25" cy="255.60" r="2.1" fill="#1c4a78"/>
<circle cx="368.50" cy="263.75" r="2.1" fill="#1c4a78"/>
<circle cx="371.50" cy="262.75" r="2.1" fill="#1c4a78"/>
<circle cx="374.40" cy="255.60" r="2.1" fill="#1c4a78"/>
<circle cx="375.60" cy="263.50" r="2.1" fill="#1c4a78"/>
<circle cx="380.60" cy="254.40" r="2.1" fill="#1c4a78"/>
<circle cx="385.60" cy="241.90" r="2.1" fill="#1c4a78"/>
<circle cx="387.25" cy="260.60" r="2.1" fill="#1c4a78"/>
<circle cx="392.75" cy="257.25" r="2.1" fill="#1c4a78"/>
<circle cx="396.25" cy="237.90" r="2.1" fill="#1c4a78"/>
<circle cx="398.75" cy="253.10" r="2.1" fill="#1c4a78"/>
<circle cx="403.10" cy="255.00" r="2.1" fill="#1c4a78"/>
<circle cx="406.90" cy="244.40" r="2.1" fill="#1c4a78"/>
<circle cx="407.50" cy="260.00" r="2.1" fill="#1c4a78"/>
<circle cx="408.75" cy="255.00" r="2.1" fill="#1c4a78"/>
<circle cx="410.60" cy="258.10" r="2.1" fill="#1c4a78"/>
<circle cx="412.75" cy="255.60" r="2.1" fill="#1c4a78"/>
<circle cx="416.25" cy="256.90" r="2.1" fill="#1c4a78"/>
<circle cx="417.50" cy="260.40" r="2.1" fill="#1c4a78"/>
<circle cx="418.50" cy="252.50" r="2.1" fill="#1c4a78"/>
<circle cx="420.60" cy="257.75" r="2.1" fill="#1c4a78"/>
<circle cx="423.10" cy="258.75" r="2.1" fill="#1c4a78"/>
<circle cx="425.00" cy="256.00" r="2.1" fill="#1c4a78"/>
<circle cx="427.10" cy="252.75" r="2.1" fill="#1c4a78"/>
<circle cx="428.10" cy="261.25" r="2.1" fill="#1c4a78"/>
<circle cx="430.00" cy="263.10" r="2.1" fill="#1c4a78"/>
<circle cx="432.50" cy="259.40" r="2.1" fill="#1c4a78"/>
<circle cx="435.60" cy="261.25" r="2.1" fill="#1c4a78"/>
<circle cx="438.75" cy="260.60" r="2.1" fill="#1c4a78"/>
<circle cx="439.40" cy="254.40" r="2.1" fill="#1c4a78"/>
<circle cx="441.25" cy="248.75" r="2.1" fill="#1c4a78"/>
<circle cx="445.60" cy="254.40" r="2.1" fill="#1c4a78"/>
<circle cx="448.10" cy="251.90" r="2.1" fill="#1c4a78"/>
<circle cx="449.00" cy="258.75" r="2.1" fill="#1c4a78"/>
<circle cx="451.25" cy="256.90" r="2.1" fill="#1c4a78"/>
<circle cx="453.75" cy="258.10" r="2.1" fill="#1c4a78"/>
<circle cx="455.60" cy="260.60" r="2.1" fill="#1c4a78"/>
<circle cx="458.10" cy="258.10" r="2.1" fill="#1c4a78"/>
<circle cx="460.00" cy="261.90" r="2.1" fill="#1c4a78"/>
<circle cx="461.90" cy="256.25" r="2.1" fill="#1c4a78"/>
<circle cx="464.40" cy="257.75" r="2.1" fill="#1c4a78"/>
<circle cx="466.90" cy="253.50" r="2.1" fill="#1c4a78"/>
<circle cx="469.40" cy="261.25" r="2.1" fill="#1c4a78"/>
<circle cx="471.90" cy="249.40" r="2.1" fill="#1c4a78"/>
<circle cx="476.25" cy="257.25" r="2.1" fill="#1c4a78"/>
<circle cx="478.50" cy="243.10" r="2.1" fill="#1c4a78"/>
<circle cx="481.00" cy="248.10" r="2.1" fill="#1c4a78"/>
<text x="3.80" y="190.10" font-size="11" text-anchor="start" font-weight="bold" fill="#111" stroke="#111" stroke-width="0.35" >B</text>
<text transform="translate(11.3,279.4) rotate(-90)" font-size="9.0" fill="#222" stroke="#222" stroke-width="0.1" lengthAdjust="spacingAndGlyphs"><tspan x="0" textLength="20.6">Platelet</tspan><tspan x="22.0" textLength="16.4">count</tspan><tspan x="39.6" textLength="15.7">(×10</tspan><tspan x="55.3" dy="-3" font-size="6.3" textLength="3.3">9</tspan><tspan x="58.6" dy="3" textLength="9.2">/L)</tspan></text>
<text transform="translate(514.5,244.4) rotate(-90)" font-size="9" text-anchor="middle" fill="#222" stroke="#222" stroke-width="0.2" textLength="75.5" lengthAdjust="spacingAndGlyphs">Serum creatinine (mg/dL)</text>
<text x="233.10" y="329.80" font-size="8.8" text-anchor="start" font-weight="bold" fill="#222" stroke="#222" stroke-width="0.25" textLength="13.2" lengthAdjust="spacingAndGlyphs" >Days</text>
<text x="248.50" y="329.80" font-size="8.8" text-anchor="start" font-weight="bold" fill="#222" stroke="#222" stroke-width="0.25" textLength="12.7" lengthAdjust="spacingAndGlyphs" >after</text>
<text x="264.30" y="329.80" font-size="8.8" text-anchor="start" font-weight="bold" fill="#222" stroke="#222" stroke-width="0.25" textLength="26.2" lengthAdjust="spacingAndGlyphs" >diagnosis</text>
<rect x="138.50" y="337.75" width="5.00" height="5.00" fill="#3aa84a"/>
<text x="146.90" y="342.65" font-size="7.8" text-anchor="start" font-weight="normal" fill="#222" stroke="#222" stroke-width="0.22" textLength="35.1" lengthAdjust="spacingAndGlyphs" >Eculizumab</text>
<rect x="188.40" y="337.75" width="5.00" height="5.00" fill="#f8c585"/>
<text x="196.70" y="342.65" font-size="7.8" text-anchor="start" font-weight="normal" fill="#222" stroke="#222" stroke-width="0.22" textLength="13.8" lengthAdjust="spacingAndGlyphs" >ADT</text>
<rect x="217.30" y="337.75" width="5.00" height="5.00" fill="#f7921e"/>
<text x="225.00" y="342.65" font-size="7.8" text-anchor="start" font-weight="normal" fill="#222" stroke="#222" stroke-width="0.22" textLength="31.25" lengthAdjust="spacingAndGlyphs" >Docetaxel</text>
<line x1="262.50" y1="340.25" x2="271.25" y2="340.25" stroke="#1a3c62" stroke-width="1.1"/>
<circle cx="266.88" cy="340.25" r="2.0" fill="#1c4a78"/>
<text x="273.75" y="342.65" font-size="7.8" text-anchor="start" font-weight="normal" fill="#222" stroke="#222" stroke-width="0.22" textLength="42.5" lengthAdjust="spacingAndGlyphs" >Platelet count</text>
<line x1="323.75" y1="340.25" x2="331.25" y2="340.25" stroke="#b9183c" stroke-width="1.1"/>
<path d="M325.80,341.61 L329.20,341.61 L327.50,338.55Z" fill="#c4163c"/>
<text x="335.00" y="342.65" font-size="7.8" text-anchor="start" font-weight="normal" fill="#222" stroke="#222" stroke-width="0.22" textLength="52.5" lengthAdjust="spacingAndGlyphs" >Serum creatinine</text>
</svg>
</body></html>
